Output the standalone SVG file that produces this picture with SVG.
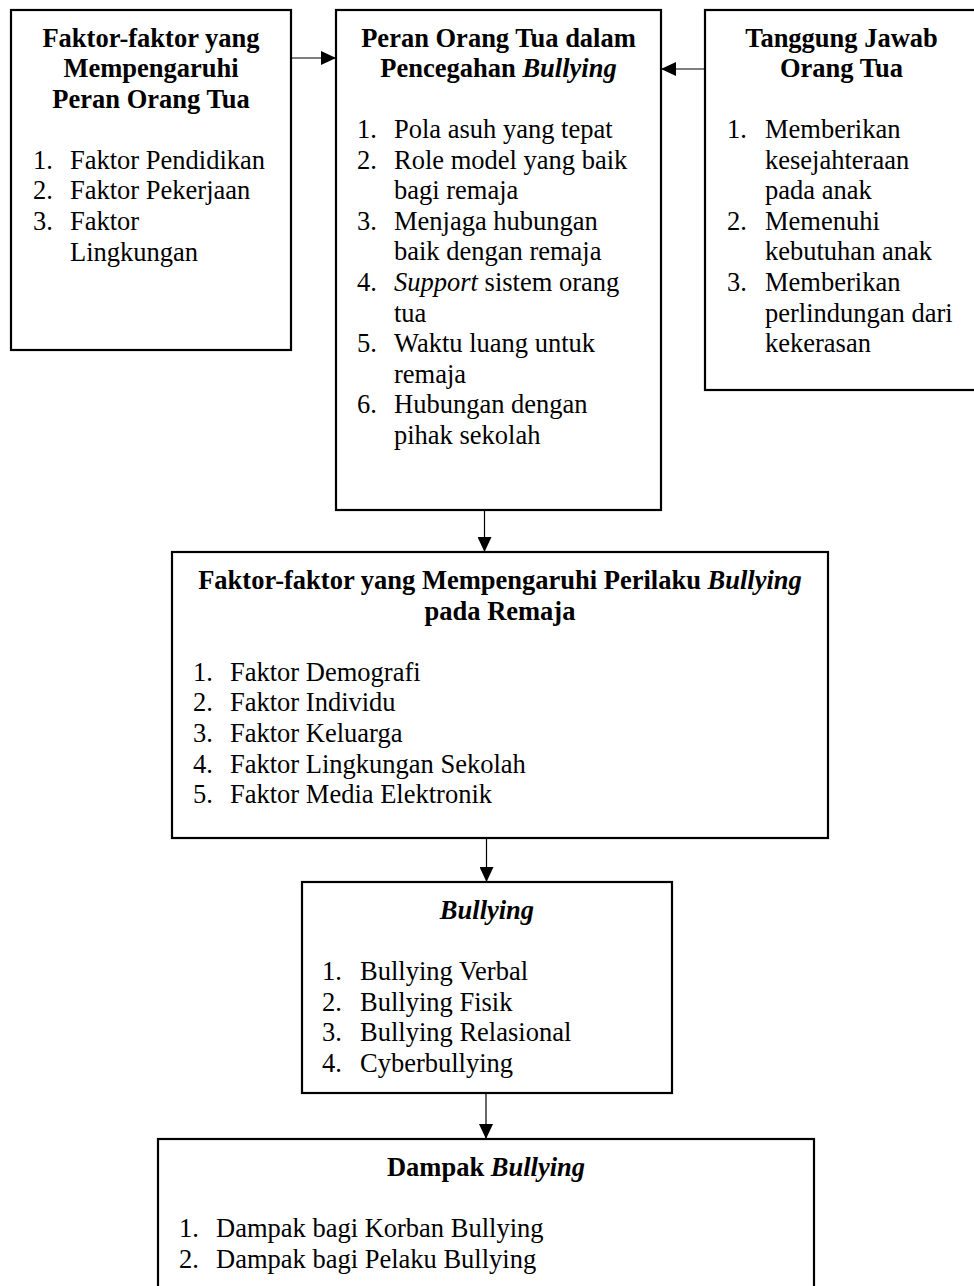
<svg xmlns="http://www.w3.org/2000/svg" width="974" height="1286" viewBox="0 0 974 1286">
<style>
.box{fill:#fff;stroke:#000;stroke-width:2.2}
.t{font-family:"Liberation Serif","Times New Roman",serif;font-size:26.5px;fill:#000}
.h{font-weight:bold;text-anchor:middle}
.i{font-style:italic}
.conn line{stroke:#000;stroke-width:1.2}
</style>
<defs>
<marker id="ah" markerWidth="15" markerHeight="14" refX="15" refY="7" orient="auto" markerUnits="userSpaceOnUse">
<path d="M0,0 L15,7 L0,14 Z" fill="#000"/>
</marker>
</defs>
<rect width="974" height="1286" fill="#fff"/>

<g id="node-faktor-peran">
<rect class="box" x="11" y="10" width="280" height="340"/>
<text class="t h" x="151" y="46.5">Faktor-faktor yang</text>
<text class="t h" x="151" y="77">Mempengaruhi</text>
<text class="t h" x="151" y="107.5">Peran Orang Tua</text>
<text class="t" x="33" y="168.7">1.</text><text class="t" x="70" y="168.7">Faktor Pendidikan</text>
<text class="t" x="33" y="199.3">2.</text><text class="t" x="70" y="199.3">Faktor Pekerjaan</text>
<text class="t" x="33" y="229.9">3.</text><text class="t" x="70" y="229.9">Faktor</text>
<text class="t" x="70" y="260.5">Lingkungan</text>
</g>

<g id="node-peran">
<rect class="box" x="336" y="10" width="325" height="500"/>
<text class="t h" x="498.5" y="46.5">Peran Orang Tua dalam</text>
<text class="t h" x="498.5" y="77">Pencegahan <tspan class="i">Bullying</tspan></text>
<text class="t" x="357" y="138">1.</text><text class="t" x="394" y="138">Pola asuh yang tepat</text>
<text class="t" x="357" y="168.6">2.</text><text class="t" x="394" y="168.6">Role model yang baik</text>
<text class="t" x="394" y="199.2">bagi remaja</text>
<text class="t" x="357" y="229.8">3.</text><text class="t" x="394" y="229.8">Menjaga hubungan</text>
<text class="t" x="394" y="260.4">baik dengan remaja</text>
<text class="t" x="357" y="291">4.</text><text class="t" x="394" y="291"><tspan class="i">Support</tspan> sistem orang</text>
<text class="t" x="394" y="321.6">tua</text>
<text class="t" x="357" y="352.2">5.</text><text class="t" x="394" y="352.2">Waktu luang untuk</text>
<text class="t" x="394" y="382.8">remaja</text>
<text class="t" x="357" y="413.4">6.</text><text class="t" x="394" y="413.4">Hubungan dengan</text>
<text class="t" x="394" y="444">pihak sekolah</text>
</g>

<g id="node-tanggung-jawab">
<rect class="box" x="705" y="10" width="290" height="380"/>
<text class="t h" x="841.5" y="46.5">Tanggung Jawab</text>
<text class="t h" x="841.5" y="77">Orang Tua</text>
<text class="t" x="727" y="138">1.</text><text class="t" x="765" y="138">Memberikan</text>
<text class="t" x="765" y="168.6">kesejahteraan</text>
<text class="t" x="765" y="199.2">pada anak</text>
<text class="t" x="727" y="229.8">2.</text><text class="t" x="765" y="229.8">Memenuhi</text>
<text class="t" x="765" y="260.4">kebutuhan anak</text>
<text class="t" x="727" y="291">3.</text><text class="t" x="765" y="291">Memberikan</text>
<text class="t" x="765" y="321.6">perlindungan dari</text>
<text class="t" x="765" y="352.2">kekerasan</text>
</g>

<g id="node-faktor-perilaku">
<rect class="box" x="172" y="552" width="656" height="286"/>
<text class="t h" x="500" y="589">Faktor-faktor yang Mempengaruhi Perilaku <tspan class="i">Bullying</tspan></text>
<text class="t h" x="500" y="619.6">pada Remaja</text>
<text class="t" x="193" y="680.8">1.</text><text class="t" x="230" y="680.8">Faktor Demografi</text>
<text class="t" x="193" y="711.4">2.</text><text class="t" x="230" y="711.4">Faktor Individu</text>
<text class="t" x="193" y="742">3.</text><text class="t" x="230" y="742">Faktor Keluarga</text>
<text class="t" x="193" y="772.6">4.</text><text class="t" x="230" y="772.6">Faktor Lingkungan Sekolah</text>
<text class="t" x="193" y="803.2">5.</text><text class="t" x="230" y="803.2">Faktor Media Elektronik</text>
</g>

<g id="node-bullying">
<rect class="box" x="302" y="882" width="370" height="211"/>
<text class="t h i" x="487" y="919">Bullying</text>
<text class="t" x="322" y="980">1.</text><text class="t" x="360" y="980">Bullying Verbal</text>
<text class="t" x="322" y="1010.6">2.</text><text class="t" x="360" y="1010.6">Bullying Fisik</text>
<text class="t" x="322" y="1041.2">3.</text><text class="t" x="360" y="1041.2">Bullying Relasional</text>
<text class="t" x="322" y="1071.8">4.</text><text class="t" x="360" y="1071.8">Cyberbullying</text>
</g>

<g id="node-dampak">
<rect class="box" x="158" y="1139" width="656" height="200"/>
<text class="t h" x="486" y="1176">Dampak <tspan class="i">Bullying</tspan></text>
<text class="t" x="179" y="1237">1.</text><text class="t" x="216" y="1237">Dampak bagi Korban Bullying</text>
<text class="t" x="179" y="1267.6">2.</text><text class="t" x="216" y="1267.6">Dampak bagi Pelaku Bullying</text>
</g>

<g id="connectors" class="conn">
<line x1="291" y1="58" x2="336" y2="58" marker-end="url(#ah)"/>
<line x1="705" y1="69" x2="661" y2="69" marker-end="url(#ah)"/>
<line x1="484.5" y1="510" x2="484.5" y2="552" marker-end="url(#ah)"/>
<line x1="486.5" y1="838" x2="486.5" y2="882" marker-end="url(#ah)"/>
<line x1="486" y1="1093" x2="486" y2="1139" marker-end="url(#ah)"/>
</g>
</svg>
